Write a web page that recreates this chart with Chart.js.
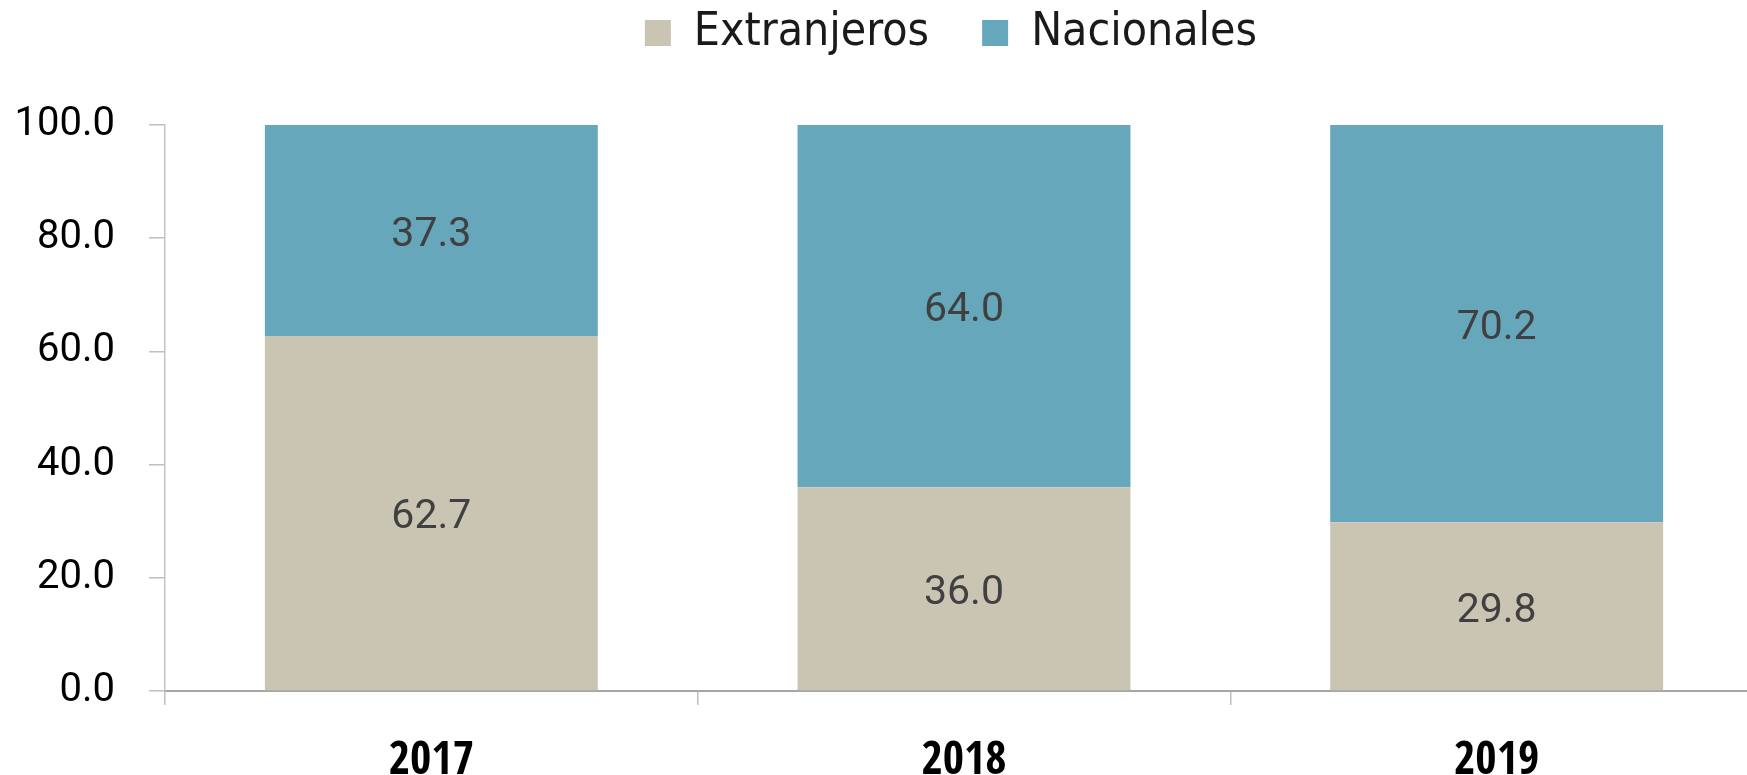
<!DOCTYPE html>
<html><head><meta charset="utf-8">
<script src="https://cdn.jsdelivr.net/npm/chart.js@4.4.1/dist/chart.umd.min.js"></script>
<style>html,body{margin:0;padding:0;background:#fff;overflow:hidden;width:1747px;height:775px}
#wrap{position:relative;width:1763px;height:775px}</style></head>
<body><div id="wrap"><canvas id="c"></canvas></div>
<script>
const categories = ['2017', '2018', '2019'];
const extranjeros = [62.7, 36.0, 29.8];
const nacionales = [37.3, 64.0, 70.2];
const seriesNames = ['Extranjeros', 'Nacionales'];
const yTickValues = [0, 20, 40, 60, 80, 100];

const LEG = '"DejaVu Sans Condensed", "DejaVu Sans", sans-serif';
const XF = '"Open Sans Condensed", "Open Sans", sans-serif';
const GEO = 'Roboto, "DejaVu Sans", sans-serif';

const barLabels = {
  id: 'barLabels',
  afterDatasetsDraw(chart) {
    const ctx = chart.ctx;
    ctx.save();
    ctx.font = '41px ' + GEO;
    ctx.fillStyle = '#404040';
    ctx.textAlign = 'center';
    ctx.textBaseline = 'middle';
    chart.data.datasets.forEach((ds, i) => {
      const meta = chart.getDatasetMeta(i);
      meta.data.forEach((bar, j) => {
        ctx.fillText(ds.data[j].toFixed(1), bar.x, (bar.y + bar.base) / 2 + 5);
      });
    });
    ctx.restore();
  }
};

// shift the centred legend so it sits over the same spot as in the reference
const legendShift = {
  id: 'legendShift',
  afterLayout(chart) {
    if (chart.legend) { chart.legend.left = 139; }
  }
};

new Chart(document.getElementById('c'), {
  type: 'bar',
  data: {
    labels: categories,
    datasets: [
      { label: seriesNames[0], data: extranjeros, backgroundColor: '#CAC4B2', borderWidth: 0 },
      { label: seriesNames[1], data: nacionales, backgroundColor: '#66A7BC', borderWidth: 0 }
    ]
  },
  options: {
    responsive: true,
    maintainAspectRatio: false,
    animation: false,
    layout: { padding: { top: -43, right: 0, bottom: 0, left: 0 } },
    datasets: { bar: { categoryPercentage: 1, barPercentage: 0.625 } },
    plugins: {
      tooltip: { enabled: false },
      legend: {
        position: 'top',
        labels: {
          boxWidth: 26, boxHeight: 26, padding: 53,
          font: { family: LEG, size: 46 },
          color: '#1a1a1a'
        }
      },
      title: {
        display: true, text: '', weight: 500,
        font: { size: 10, lineHeight: 1 },
        padding: { top: 25, bottom: 24 }
      }
    },
    scales: {
      x: {
        stacked: true,
        grid: { display: true, drawOnChartArea: false, offset: true, tickLength: 14, color: '#BFBFBF', lineWidth: 1.5 },
        border: { color: '#A6A6A6', width: 2 },
        ticks: { font: { family: XF, size: 46, weight: 'bold condensed' }, color: '#000', padding: 29 },
        afterFit(s) { s.height = 84; }
      },
      y: {
        stacked: true, min: 0, max: 100,
        afterBuildTicks(s) { s.ticks = yTickValues.map(v => ({ value: v })); },
        ticks: { callback: v => Number(v).toFixed(1), font: { family: GEO, size: 40 }, color: '#000', padding: 34 },
        grid: { drawOnChartArea: false, tickLength: 16, color: '#BFBFBF', lineWidth: 1.5 },
        border: { color: '#C4C4C4', width: 1.5 },
        afterFit(s) { s.width = 165; }
      }
    }
  },
  plugins: [barLabels, legendShift]
});
</script></body></html>
